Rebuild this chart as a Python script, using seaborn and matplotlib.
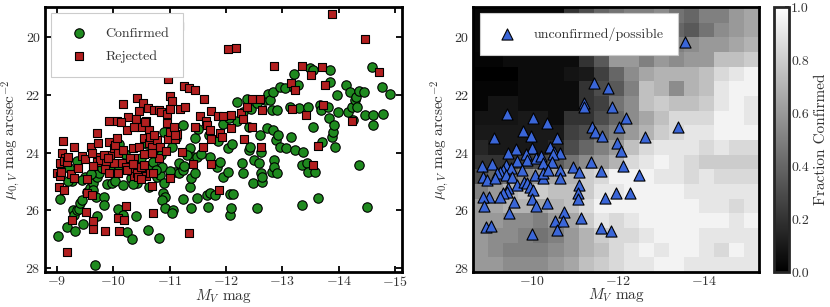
import numpy as np
import pandas as pd
import matplotlib
matplotlib.use("Agg")
import matplotlib.pyplot as plt
import seaborn as sns

# ---------------- data ----------------
confirmed_mv = [-9.02, -9.06, -9.18, -9.28, -9.33, -9.31, -9.35, -9.40, -9.41, -9.44, -9.46, -9.27, -9.50, -9.54,
                -9.58, -9.65, -9.70, -9.72, -9.75, -9.71, -9.83, -9.84, -9.89, -9.98, -10.04, -9.68, -10.09, -10.18,
                -10.24, -10.34, -10.40, -10.61, -10.81, -10.18, -10.31, -10.42, -10.63, -10.65, -10.71, -10.79,
                -10.77, -10.83, -10.86, -10.89, -10.91, -10.87, -10.91, -11.06, -11.04, -11.10, -11.16, -11.23,
                -11.17, -11.23, -11.36, -11.38, -11.38, -11.45, -11.48, -11.41, -11.48, -11.36, -11.45, -11.23,
                -11.66, -11.71, -11.68, -11.71, -11.81, -11.84, -11.90, -11.94, -12.03, -12.04, -12.07, -12.13,
                -12.07, -12.09, -12.19, -12.28, -12.31, -12.40, -12.43, -12.38, -12.48, -12.50, -12.55, -12.59,
                -12.60, -12.62, -12.63, -12.64, -12.62, -12.69, -12.72, -12.75, -12.78, -12.81, -12.84, -12.82,
                -12.85, -12.85, -12.84, -12.88, -12.90, -12.93, -12.96, -12.91, -12.95, -13.05, -13.07, -13.14,
                -13.15, -13.20, -13.21, -13.23, -13.28, -13.30, -13.34, -13.34, -13.37, -13.43, -13.46, -13.46,
                -13.49, -13.55, -13.55, -13.58, -13.63, -13.66, -13.68, -13.70, -13.80, -13.82, -13.84, -13.85,
                -13.88, -13.89, -13.91, -13.94, -13.96, -13.99, -14.13, -14.16, -14.20, -14.23, -14.26, -14.29,
                -14.30, -14.32, -14.35, -14.35, -14.44, -14.47, -14.50, -14.59, -14.60, -14.60, -14.77, -14.78,
                -14.91,
                -9.22, -9.35, -9.60, -9.80, -9.95, -10.10, -10.20, -10.30, -10.40, -10.50, -10.60, -10.70, -10.85,
                -10.90, -11.05, -11.12, -11.00, -10.75, -9.45, -9.65, -9.20, -9.80, -10.10, -10.35, -10.90, -11.30,
                -11.25, -11.55, -11.50, -11.70, -11.85, -11.95, -12.10, -12.20, -12.05, -12.30, -12.45, -12.55,
                -12.40]
confirmed_mu = [26.87, 25.62, 26.58, 25.98, 26.71, 26.16, 25.98, 25.96, 25.75, 25.64, 26.47, 25.00, 24.83, 25.35,
                25.24, 25.04, 25.52, 24.83, 24.72, 26.21, 25.52, 25.81, 25.10, 25.06, 24.98, 27.89, 25.96, 26.16,
                26.73, 27.00, 26.21, 26.67, 26.96, 25.12, 24.89, 25.06, 25.20, 24.55, 24.32, 23.91,
                24.83, 24.78, 24.49, 25.39, 25.52, 25.64, 25.93, 25.98, 26.10, 24.66, 24.72, 25.62,
                24.37, 24.60, 25.18, 25.93, 24.89, 24.72, 25.58, 24.14, 24.14, 23.86, 23.51, 23.05,
                25.47, 25.41, 25.87, 24.14, 25.47, 24.49, 24.32, 24.86, 24.66, 23.86, 25.43, 25.43,
                26.16, 25.93, 22.24, 24.37, 24.72, 23.91, 23.80, 22.16, 25.06, 24.26, 25.93, 24.37,
                23.39, 24.72, 25.01, 24.83, 23.97, 22.19, 23.16, 21.96, 22.19, 22.53, 21.90, 24.66,
                24.26, 24.49, 23.22, 23.57, 22.53, 23.39, 23.80, 24.72, 21.73, 21.78, 23.86, 22.42,
                23.45, 21.78, 21.27, 23.91, 21.67, 22.47, 24.43, 25.81, 23.97, 24.37, 24.66, 22.42,
                21.09, 21.15, 23.11, 24.66, 25.58, 22.36, 22.53, 23.62, 22.42, 22.82, 21.55, 21.15,
                23.45, 23.28, 23.05, 23.80, 22.01, 22.59, 21.67, 22.59, 21.90, 22.42, 22.88, 22.19,
                22.07, 22.42, 21.86, 24.43, 21.90, 22.70, 25.87, 21.04, 22.70, 23.05, 21.75, 22.65,
                21.98,
                24.55, 24.30, 24.75, 24.55, 24.60, 24.50, 24.05, 24.30, 24.70, 24.20, 23.70, 23.90, 24.10,
                23.30, 23.80, 23.50, 24.65, 24.60, 24.95, 25.30, 25.00, 24.20, 23.70, 25.10, 25.05, 24.10,
                24.45, 24.05, 23.20, 23.40, 23.60, 23.00, 23.70, 22.90, 22.80, 22.60, 22.50, 22.30,
                23.10]

rejected_mv = [-9.11, -9.00, -9.05, -9.08, -9.09, -9.05, -9.15, -9.13, -9.18, -9.19, -9.03, -9.12, -9.25, -9.30,
               -9.31, -9.38, -9.27, -9.18, -9.54, -9.51, -9.44, -9.50, -9.53, -9.62, -9.65, -9.64, -9.60, -9.72,
               -9.73, -9.74, -9.71, -9.77, -9.87, -9.92, -9.95, -9.85, -9.92, -10.02, -10.02, -10.03, -10.08,
               -10.06, -10.09, -9.86, -10.09, -10.19, -10.11, -10.23, -10.24, -10.28, -10.35, -10.36, -10.33,
               -10.37, -10.42, -10.49, -10.50, -10.45, -10.54, -10.55, -10.54, -10.58, -10.59, -10.63, -10.64,
               -10.65, -10.68, -10.65, -10.78, -10.82, -10.83, -10.73, -10.97, -11.01, -10.94, -11.01, -11.09,
               -11.13,
               -13.88, -14.47, -11.17, -12.03, -12.17, -12.85, -13.34, -13.71, -14.72, -13.51, -13.15, -13.23,
               -13.76, -10.98, -11.25, -11.35, -11.45, -11.61, -10.42, -10.52, -11.00, -11.05, -10.18, -10.61,
               -10.45, -10.73, -10.82, -10.85, -10.26, -10.41, -9.93, -10.07, -10.13, -10.96, -11.00, -11.19,
               -11.28, -11.54, -11.64, -11.73, -11.85, -11.95, -12.09, -12.27, -12.37, -12.46, -12.60, -12.64,
               -12.30, -12.46, -13.17, -13.42, -13.72, -14.23, -10.36, -10.57, -10.95, -11.07, -11.10, -11.45,
               -11.66, -11.90, -11.93, -11.71, -12.09, -12.32, -12.62, -11.22, -11.60, -11.74, -11.74, -11.42,
               -13.63, -13.54, -11.88, -11.34, -10.71, -10.69, -10.70, -10.69,
               -9.62, -9.65, -9.84, -9.90, -10.15, -10.22, -10.18, -10.25, -10.30, -10.44, -10.50, -10.35]
rejected_mu = [23.61, 24.72, 24.81, 24.66, 24.03, 24.37, 24.18, 24.28, 24.34, 24.14, 25.18, 25.29, 24.75, 24.87,
               23.80, 24.55, 26.33, 27.45, 24.93, 26.05, 24.11, 24.23, 25.41, 25.47, 26.65, 26.36, 23.80, 23.34,
               23.68, 24.14, 24.32, 24.26, 24.37, 23.62, 24.10, 24.58, 24.72, 24.37, 23.85, 23.74, 24.03,
               23.51, 24.72, 26.70, 26.27, 26.33, 26.71, 25.85, 23.22, 24.42, 23.84, 24.20, 24.65,
               24.81, 24.72, 23.11, 24.49, 23.80, 23.49, 24.06, 24.43, 24.80, 22.92, 23.22, 23.68,
               23.45, 23.80, 24.72, 23.57, 24.20, 23.80, 23.39, 23.54, 23.28, 23.94, 24.89, 23.54,
               23.36,
               19.22, 20.09, 19.62, 20.41, 20.38, 21.01, 21.00, 21.05, 21.20, 21.33, 21.61, 21.85,
               21.66, 21.46, 21.71, 21.78, 21.84, 22.15, 22.11, 22.27, 22.04, 22.23, 22.31, 22.45,
               22.57, 22.53, 22.52, 22.61, 22.76, 22.84, 22.91, 22.90, 22.95, 22.66, 22.51, 22.51,
               22.43, 22.72, 22.90, 22.57, 22.73, 22.74, 22.69, 22.62, 22.44, 22.14, 22.15, 22.54,
               22.85, 23.11, 22.50, 22.70, 22.36, 22.91, 23.11, 22.96, 22.97, 23.13, 23.39, 23.11,
               23.05, 23.31, 23.47, 23.22, 23.15, 23.54, 23.80, 23.97, 23.80, 23.54, 24.41, 24.41,
               23.78, 24.43, 25.29, 26.79, 26.10, 25.14, 24.72, 24.03,
               24.00, 24.45, 24.08, 24.20, 24.35, 24.50, 23.92, 24.60, 24.18, 24.86, 24.92, 24.40]

unconf_mv = [-13.55, -11.44, -11.76, -11.21, -11.21, -11.87, -12.19, -9.44, -10.04, -10.36, -12.03, -11.39, -11.48,
             -11.64, -13.40, -12.63, -9.13, -9.81, -9.98, -10.58, -11.98, -12.08, -10.02, -9.63, -10.42, -10.51,
             -10.66, -10.50, -9.46, -9.88, -9.90, -9.67, -10.10, -10.21, -10.27, -10.48, -9.09, -8.86, -9.41,
             -9.34, -9.27, -9.21, -9.53, -9.78, -9.41, -9.54, -8.88, -8.96, -9.15, -10.08, -10.27, -10.26,
             -10.39, -10.66, -10.66, -10.95, -11.10, -11.37, -11.62, -12.13, -12.49, -9.67, -9.83, -9.89,
             -9.97, -10.04, -9.46, -9.44, -9.33, -9.27, -9.02, -8.88, -8.90, -9.59, -10.01, -10.10, -10.36,
             -11.10, -11.07, -11.08, -11.95, -12.29, -11.70, -10.75, -9.48, -10.54, -10.72, -10.58, -11.14,
             -10.02, -8.94, -9.05, -11.62, -11.84]
unconf_mu = [20.17, 21.59, 21.76, 22.30, 22.42, 22.44, 22.80, 22.67, 22.82, 22.97, 23.11, 23.13, 23.28,
             23.42, 23.11, 23.45, 23.48, 23.26, 23.43, 23.48, 23.66, 23.94, 23.83, 23.89, 23.80, 23.97,
             24.03, 24.05, 24.03, 24.05, 24.26, 24.28, 24.20, 24.12, 24.37, 24.34, 24.41, 24.45, 24.43,
             24.60, 24.66, 24.70, 24.55, 24.60, 24.78, 24.83, 24.83, 24.95, 24.89, 24.78, 24.89, 24.72,
             24.60, 24.60, 24.89, 24.49, 24.66, 24.32, 24.64, 24.45, 24.79, 25.12, 25.01, 25.06,
             25.18, 25.29, 25.24, 25.35, 25.41, 25.52, 25.52, 25.52, 25.85, 25.70, 25.62, 25.85, 25.75,
             25.12, 25.41, 25.62, 25.39, 25.41, 25.58, 26.04, 26.10, 26.35, 26.36, 26.67, 26.27,
             26.82, 26.59, 26.54, 26.62, 26.70]

# fraction confirmed grid: rows from mu=19 (top) to mu=28.1 (bottom), columns from Mv=-8.65 to -15.27
frac_grid = [
    [0.03, 0.03, 0.03, 0.03, 0.03, 0.03, 0.20, 0.30, 0.40, 0.45, 0.50, 0.50, 0.55, 0.45, 0.40, 0.50, 0.50, 0.60, 0.65],
    [0.03, 0.03, 0.03, 0.03, 0.03, 0.03, 0.20, 0.30, 0.40, 0.45, 0.50, 0.50, 0.55, 0.40, 0.35, 0.45, 0.55, 0.60, 0.65],
    [0.03, 0.03, 0.03, 0.03, 0.03, 0.03, 0.10, 0.25, 0.35, 0.45, 0.50, 0.55, 0.55, 0.50, 0.55, 0.60, 0.60, 0.65, 0.70],
    [0.02, 0.02, 0.05, 0.05, 0.05, 0.05, 0.05, 0.20, 0.35, 0.60, 0.60, 0.50, 0.60, 0.55, 0.60, 0.60, 0.75, 0.75, 0.80],
    [0.00, 0.00, 0.00, 0.05, 0.05, 0.05, 0.08, 0.10, 0.25, 0.40, 0.55, 0.65, 0.70, 0.70, 0.70, 0.75, 0.85, 0.90, 0.95],
    [0.02, 0.02, 0.02, 0.05, 0.05, 0.05, 0.05, 0.20, 0.30, 0.35, 0.50, 0.75, 0.70, 0.55, 0.70, 0.75, 0.90, 0.95, 0.95],
    [0.02, 0.08, 0.08, 0.05, 0.05, 0.05, 0.05, 0.20, 0.25, 0.45, 0.55, 0.75, 0.80, 0.75, 0.75, 0.80, 0.90, 0.95, 0.90],
    [0.08, 0.08, 0.08, 0.10, 0.10, 0.05, 0.20, 0.20, 0.30, 0.40, 0.55, 0.65, 0.75, 0.85, 0.85, 0.85, 0.95, 0.95, 0.90],
    [0.10, 0.10, 0.10, 0.10, 0.10, 0.10, 0.25, 0.30, 0.40, 0.50, 0.60, 0.70, 0.80, 0.85, 0.90, 0.90, 0.95, 0.95, 0.95],
    [0.15, 0.10, 0.10, 0.10, 0.10, 0.15, 0.30, 0.40, 0.50, 0.60, 0.75, 0.85, 0.90, 0.90, 0.90, 0.85, 0.90, 0.85, 0.85],
    [0.20, 0.20, 0.20, 0.25, 0.30, 0.35, 0.45, 0.55, 0.60, 0.70, 0.85, 0.90, 0.95, 0.90, 0.85, 0.80, 0.80, 0.80, 0.80],
    [0.30, 0.40, 0.45, 0.55, 0.60, 0.65, 0.70, 0.80, 0.85, 0.95, 0.95, 0.95, 0.90, 0.90, 0.85, 0.90, 0.85, 0.85, 0.85],
    [0.50, 0.60, 0.70, 0.75, 0.80, 0.75, 0.75, 0.80, 0.90, 0.90, 0.95, 0.95, 0.95, 0.95, 0.90, 0.90, 0.90, 0.90, 0.90],
    [0.60, 0.65, 0.70, 0.70, 0.65, 0.70, 0.75, 0.85, 0.95, 0.95, 0.95, 0.95, 0.95, 0.95, 0.95, 0.90, 0.90, 0.85, 0.90],
    [0.60, 0.60, 0.55, 0.55, 0.50, 0.60, 0.65, 0.80, 0.90, 0.85, 0.90, 0.95, 0.95, 0.95, 0.95, 0.95, 0.95, 0.90, 0.95],
    [0.60, 0.55, 0.55, 0.50, 0.45, 0.50, 0.60, 0.70, 0.80, 0.85, 0.85, 0.90, 0.95, 0.95, 0.95, 0.90, 0.90, 0.90, 0.90],
    [0.60, 0.55, 0.50, 0.50, 0.50, 0.55, 0.60, 0.70, 0.75, 0.85, 0.90, 0.95, 0.90, 0.95, 0.95, 0.90, 0.85, 0.95, 0.90],
    [0.60, 0.60, 0.55, 0.55, 0.55, 0.60, 0.65, 0.75, 0.80, 0.85, 0.90, 0.90, 0.95, 0.95, 0.90, 0.90, 0.90, 0.90, 0.90],
]

# ---------------- style ----------------
sns.set_style("ticks")
plt.rcParams["font.family"] = ["cmr10", "DejaVu Serif"]
plt.rcParams["mathtext.fontset"] = "cm"
plt.rcParams["axes.formatter.use_mathtext"] = True
plt.rcParams["axes.unicode_minus"] = True
TXT = "#333333"

fig = plt.figure(figsize=(8.3, 3.07), dpi=100)
ax1 = fig.add_axes([0.0542, 0.114, 0.4301, 0.863])
ax2 = fig.add_axes([0.5702, 0.114, 0.3443, 0.863])
cax = fig.add_axes([0.9325, 0.114, 0.0175, 0.863])

df_c = pd.DataFrame({"mv": confirmed_mv, "mu": confirmed_mu})
df_r = pd.DataFrame({"mv": rejected_mv, "mu": rejected_mu})
df_u = pd.DataFrame({"mv": unconf_mv, "mu": unconf_mu})

sns.scatterplot(data=df_c, x="mv", y="mu", ax=ax1, marker="o", color="#1f8a1f", s=46,
                edgecolor="black", linewidth=0.8, label="Confirmed", zorder=3)
sns.scatterplot(data=df_r, x="mv", y="mu", ax=ax1, marker="s", color="#b21f1f", s=40,
                edgecolor="black", linewidth=0.8, label="Rejected", zorder=3)

# heat map
grid = np.array(frac_grid)
xe = np.linspace(-8.65, -15.27, grid.shape[1] + 1)
ye = np.linspace(19.0, 28.13, grid.shape[0] + 1)
mesh = ax2.pcolormesh(xe, ye, grid, cmap="gray", vmin=0, vmax=1, shading="flat", zorder=1)
sns.scatterplot(data=df_u, x="mv", y="mu", ax=ax2, marker="^", color="#3a66d8", s=64,
                edgecolor="black", linewidth=0.8, label="unconfirmed/possible", zorder=3)

ax1.set_xlim(-8.79, -15.12)
ax1.set_ylim(28.13, 18.97)
ax2.set_xlim(-8.65, -15.27)
ax2.set_ylim(28.13, 18.97)
ax1.set_xticks([-9, -10, -11, -12, -13, -14, -15])
ax2.set_xticks([-10, -12, -14])
for ax in (ax1, ax2):
    ax.set_yticks([20, 22, 24, 26, 28])
    ax.tick_params(direction="in", top=True, right=True, length=4, width=1.3,
                   labelsize=10, labelcolor=TXT, color="black")
    ax.tick_params(axis="x", pad=2)
    ax.tick_params(axis="y", pad=3)
    for sp in ax.spines.values():
        sp.set_linewidth(2.0)
        sp.set_color("black")
    ax.set_xlabel(r"$M_V$ mag", fontsize=11, color=TXT, labelpad=-1)
    ax.set_ylabel(r"$\mu_{0,V}$ mag arcsec$^{-2}$", fontsize=11, color=TXT, labelpad=2)

leg1 = ax1.legend(loc="upper left", fontsize=10, frameon=True, fancybox=False, framealpha=1,
                  edgecolor="#cccccc", borderpad=1.0, labelspacing=0.75, handletextpad=0.9,
                  borderaxespad=0.45, markerscale=1.0)
leg2 = ax2.legend(loc="upper left", fontsize=10, frameon=True, fancybox=False, framealpha=1,
                  edgecolor="#cccccc", borderpad=1.0, handletextpad=0.9, borderaxespad=0.45)
for leg in (leg1, leg2):
    leg.get_frame().set_linewidth(0.8)
    for t in leg.get_texts():
        t.set_color(TXT)

cb = fig.colorbar(mesh, cax=cax)
cb.set_ticks([0.0, 0.2, 0.4, 0.6, 0.8, 1.0])
cb.ax.tick_params(direction="in", length=3, width=1.3, labelsize=10, labelcolor=TXT, pad=2)
cb.ax.yaxis.set_major_formatter(matplotlib.ticker.FormatStrFormatter("%.1f"))
cb.outline.set_linewidth(2.0)
cb.set_label("Fraction Confirmed", fontsize=11, color=TXT, labelpad=4)

fig.savefig("out.png", dpi=100)
